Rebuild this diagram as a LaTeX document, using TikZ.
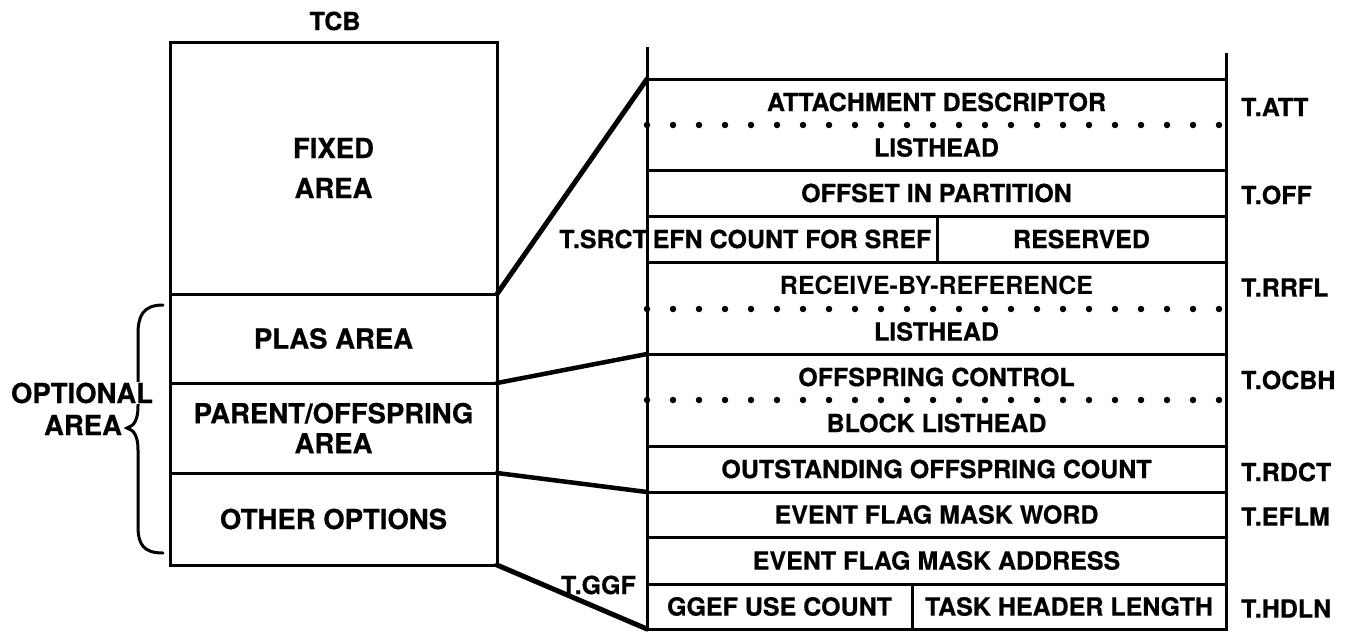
\documentclass[tikz,border=0pt]{standalone}
\usepackage{fontspec}
\setmainfont{TeX Gyre Heros}[BoldFeatures={FakeBold=0.6}]
\newfontfamily\midweight{texgyreheros-bold.otf}
\begin{document}
\begin{tikzpicture}[x=1pt,y=-1pt,
  frame/.style={line width=3pt},
  link/.style={line width=4.5pt, line cap=round},
  dotline/.style={line width=6.5pt, line cap=round, dash pattern=on 0pt off 26pt},
  area/.style={draw, line width=3pt, rectangle, inner sep=0pt, outer sep=0pt,
    minimum width=327pt, anchor=north west, align=center,
    font=\fontsize{27.5}{30}\selectfont\bfseries},
  cell/.style={rectangle, inner sep=0pt, outer sep=0pt, anchor=north west,
    minimum width=579pt, font=\fontsize{25}{28}\selectfont\bfseries},
  boxed/.style={cell, draw, line width=3pt},
  side/.style={anchor=west, inner sep=0pt, font=\fontsize{25}{28}\selectfont\bfseries},
  lbl/.style={inner sep=0pt, font=\fontsize{27.5}{30}\selectfont\bfseries, align=center}
]
\useasboundingbox (0,0) rectangle (1350,633);

% ---- task control block overview ----
\node[lbl, font=\fontsize{25}{28}\selectfont\bfseries] (tcb) at (335,21) {TCB};
\node[area, minimum height=252pt] (fixed) at (170,42) {FIXED\\[10pt]AREA};
\node[area, minimum height=89pt] (plas) at (170,294) {PLAS AREA};
\node[area, minimum height=90pt] (parent) at (170,383) {PARENT/OFFSPRING\\AREA};
\node[area, minimum height=92pt] (other) at (170,473) {OTHER OPTIONS};

% brace grouping the optional part
\draw[line width=3pt, line cap=round]
  (163,305) .. controls (143,305) and (138,316) .. (138,334)
  -- (138,406) .. controls (138,420) and (134,426) .. (127,428)
  .. controls (134,430) and (138,436) .. (138,450)
  -- (138,526) .. controls (138,544) and (143,553) .. (163,553);
\node[lbl, fill=white, inner sep=1pt] (opt) at (82,393) {OPTIONAL};
\node[lbl] (opt2) at (83,425) {AREA};

% ---- detailed layout of the optional area ----
\node[cell, minimum height=46pt] (att1) at (647,79) {ATTACHMENT DESCRIPTOR};
\node[cell, minimum height=45pt] (att2) at (647,125) {LISTHEAD};
\node[boxed, minimum height=46pt] (off) at (647,170) {OFFSET IN PARTITION};
\node[boxed, minimum width=290pt, minimum height=46pt] (efn) at (647,216) {EFN COUNT FOR SREF};
\node[boxed, minimum width=289pt, minimum height=46pt] (res) at (937,216) {RESERVED};
\node[cell, minimum height=47pt, font=\fontsize{25}{28}\midweight] (rr1) at (647,262) {RECEIVE-BY-REFERENCE};
\node[cell, minimum height=45pt] (rr2) at (647,309) {LISTHEAD};
\node[cell, minimum height=46pt] (oc1) at (647,354) {OFFSPRING CONTROL};
\node[cell, minimum height=46pt] (oc2) at (647,400) {BLOCK LISTHEAD};
\node[boxed, minimum height=46pt] (rdct) at (647,446) {OUTSTANDING OFFSPRING COUNT};
\node[boxed, minimum height=45pt] (eflm) at (647,492) {EVENT FLAG MASK WORD};
\node[boxed, minimum height=47pt] (efla) at (647,537) {EVENT FLAG MASK ADDRESS};
\node[boxed, minimum width=265pt, minimum height=45pt] (ggef) at (647,584) {GGEF USE COUNT};
\node[boxed, minimum width=314pt, minimum height=45pt] (hdln) at (912,584) {TASK HEADER LENGTH};

% two-word entries: outline plus dotted word boundary
\draw[frame] (att1.north west) rectangle (att2.south east);
\draw[frame] (rr1.north west) rectangle (rr2.south east);
\draw[frame] (oc1.north west) rectangle (oc2.south east);
\draw[dotline] (att1.south west) -- (att1.south east);
\draw[dotline] (rr1.south west) -- (rr1.south east);
\draw[dotline] (oc1.south west) -- (oc1.south east);

% upward extension of the structure
\coordinate (ltop) at (647,47);
\coordinate (rtop) at (1226,53);
\draw[frame] (att1.north west) -- (ltop);
\draw[frame] (att1.north east) -- (rtop);

% offset symbols
\node[side] (tatt) at ([xshift=15pt,yshift=-5pt]att1.east) {T.ATT};
\node[side] (toff) at ([xshift=15pt,yshift=-2pt]off.east) {T.OFF};
\node[side] (trrfl) at ([xshift=15pt,yshift=-2pt]rr1.east) {T.RRFL};
\node[side] (tocbh) at ([xshift=15pt,yshift=-3pt]oc1.east) {T.OCBH};
\node[side] (trdct) at ([xshift=15pt,yshift=-3pt]rdct.east) {T.RDCT};
\node[side] (teflm) at ([xshift=15pt,yshift=-2pt]eflm.east) {T.EFLM};
\node[side] (thdln) at ([xshift=15pt,yshift=-2pt]hdln.east) {T.HDLN};
\node[side, anchor=east] (tsrct) at ([xshift=1pt]efn.west) {T.SRCT};
\node[side, anchor=east] (tggf) at ([xshift=-11pt,yshift=-1pt]ggef.north west) {T.GGF};

% expansion lines from the overview to the detail
\draw[link, line width=5pt] (plas.north east) -- (att1.north west);
\draw[link] (plas.south east) -- (oc1.north west);
\draw[link] (parent.south east) -- (rdct.south west);
\draw[link, line width=5pt] (other.south east) -- (ggef.south west);
\end{tikzpicture}
\end{document}
